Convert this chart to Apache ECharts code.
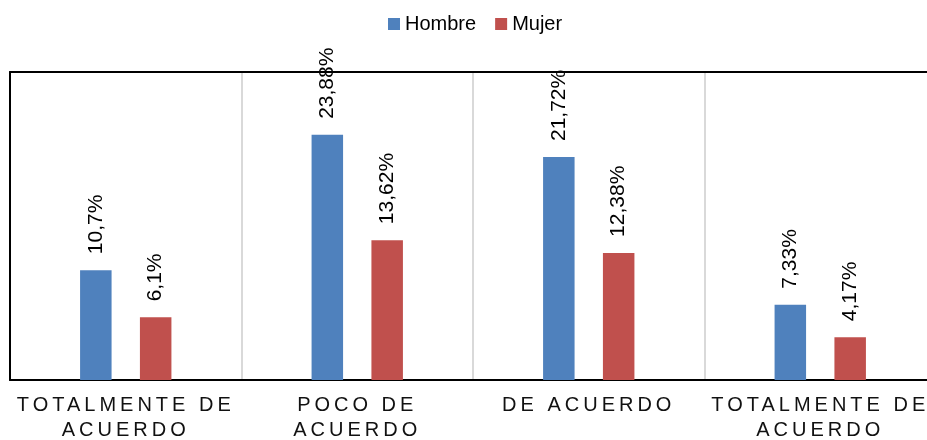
<!DOCTYPE html>
<html>
<head>
<meta charset="utf-8">
<script src="https://cdn.jsdelivr.net/npm/echarts@6/dist/echarts.min.js"></script>
<style>
  html, body { margin: 0; padding: 0; background: #fff; }
  #chart { width: 927px; height: 440px; }
</style>
</head>
<body>
<div id="chart"></div>
<script>
// Response categories (line breaks as they wrap under the axis)
const categories = ['TOTALMENTE DE\nACUERDO', 'POCO DE\nACUERDO', 'DE ACUERDO', 'TOTALMENTE DE\nACUERDO'];
// Percentages per group
const hombre = [10.7, 23.88, 21.72, 7.33];
const mujer = [6.1, 13.62, 12.38, 4.17];
const seriesNames = ['Hombre', 'Mujer'];

// Category labels are drawn letter-spaced; canvas supports this natively,
// so widen the tracking only for those label lines.
const spacedLines = new Set();
categories.forEach(c => c.split('\n').forEach(l => spacedLines.add(l)));
const ctxProto = CanvasRenderingContext2D.prototype;
const baseFillText = ctxProto.fillText;
ctxProto.fillText = function (text, x, y, maxWidth) {
  const spaced = spacedLines.has(text) && 'letterSpacing' in this;
  // re-assigning the font makes the new tracking take effect
  this.letterSpacing = spaced ? '4px' : '0px';
  this.font = this.font;
  return maxWidth === undefined
    ? baseFillText.call(this, text, x, y)
    : baseFillText.call(this, text, x, y, maxWidth);
};

const FONT = '"Liberation Sans", Arial, sans-serif';
const pct = v => String(v).replace('.', ',') + '%';

const valueLabel = {
  show: true,
  position: 'top',
  rotate: 90,
  align: 'left',
  verticalAlign: 'middle',
  distance: 16,
  color: '#000',
  fontFamily: FONT,
  fontSize: 21,
  formatter: p => pct(p.value)
};

const chart = echarts.init(document.getElementById('chart'), null, { renderer: 'canvas' });
chart.setOption({
  animation: false,
  backgroundColor: '#fff',
  color: ['#4F81BD', '#C0504D'],
  legend: {
    data: seriesNames,
    left: 388,
    top: 14,
    padding: 0,
    itemWidth: 12,
    itemHeight: 12,
    itemGap: 19,
    icon: 'rect',
    textStyle: { fontFamily: FONT, fontSize: 20, color: '#000' }
  },
  grid: {
    left: 10,
    top: 72,
    width: 926,
    bottom: 60,
    containLabel: false,
    outerBoundsMode: 'none'
  },
  xAxis: [
    {
      type: 'category',
      data: categories,
      position: 'bottom',
      axisLine: { show: true, lineStyle: { color: '#000', width: 2 } },
      axisTick: { show: false },
      splitLine: { show: true, interval: 0, lineStyle: { color: '#d9d9d9', width: 2 } },
      axisLabel: {
        interval: 0,
        margin: 13,
        color: '#111',
        fontFamily: FONT,
        fontSize: 20,
        lineHeight: 25
      }
    },
    {
      type: 'category',
      data: categories,
      position: 'top',
      z: 5,
      axisLine: { show: true, lineStyle: { color: '#000', width: 2 } },
      axisTick: { show: false },
      axisLabel: { show: false },
      splitLine: { show: false }
    }
  ],
  yAxis: {
    type: 'value',
    min: 0,
    max: 30,
    z: 5,
    axisLine: { show: true, lineStyle: { color: '#000', width: 2 } },
    axisTick: { show: false },
    axisLabel: { show: false },
    splitLine: { show: false }
  },
  series: [
    {
      name: seriesNames[0],
      type: 'bar',
      data: hombre,
      barWidth: 31.5,
      barGap: '90%',
      label: valueLabel
    },
    {
      name: seriesNames[1],
      type: 'bar',
      data: mujer,
      barWidth: 31.5,
      barGap: '90%',
      label: valueLabel
    }
  ]
});
</script>
</body>
</html>
